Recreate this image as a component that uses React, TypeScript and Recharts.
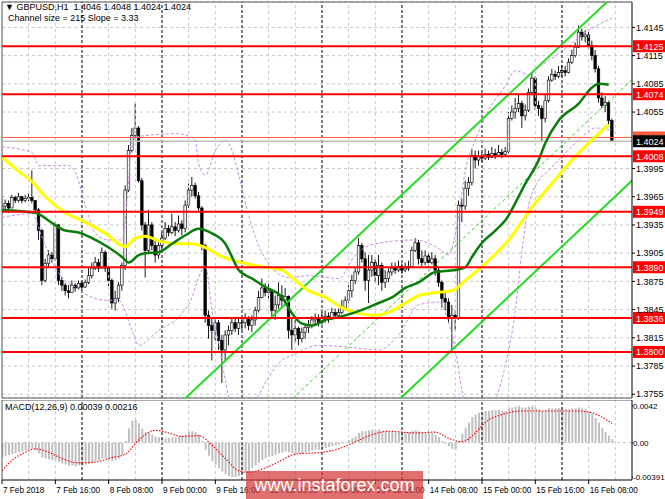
import React from 'react';
import { ComposedChart, Bar, Line, XAxis, YAxis, ReferenceLine, CartesianGrid } from 'recharts';

const FONT = '"Liberation Sans", Arial, sans-serif';

// GBPUSD H1, 7 Feb 2018 00:00 -> 16 Feb 2018 15:00 (bar index = hour slot)
const firstOpen = 1.395;
const closes = [
  1.3955, 1.3958, 1.3953, 1.3964, 1.3961, 1.3965, 1.3961, 1.3963, 1.3964, 1.3961,
  1.3951, 1.3929, 1.3876, 1.3894, 1.3903, 1.3899, 1.3935, 1.3876, 1.3871, 1.3865,
  1.3863, 1.3871, 1.3868, 1.3873, 1.3869, 1.3874, 1.3881, 1.3889, 1.3895, 1.3889,
  1.3906, 1.3889, 1.3876, 1.3852, 1.3857, 1.3871, 1.3892, 1.3972, 1.4014, 1.403,
  1.4038, 1.3982, 1.3935, 1.3908, 1.3935, 1.3913, 1.3903, 1.3913, 1.3921, 1.3931,
  1.3927, 1.3933, 1.3929, 1.3936, 1.3931, 1.3956, 1.3972, 1.3977, 1.3966, 1.3953,
  1.3913, 1.3839, 1.3828, 1.3823, 1.3831, 1.3812, 1.3802, 1.3818, 1.3823, 1.3831,
  1.3825, 1.3831, 1.3831, 1.3836, 1.3828, 1.3834, 1.3844, 1.3858, 1.3868, 1.3863,
  1.3865, 1.3844, 1.385, 1.386, 1.3855, 1.3859, 1.3823, 1.3818, 1.3825, 1.3814,
  1.3821, 1.3826, 1.3828, 1.3834, 1.3836, 1.3831, 1.3836, 1.3838, 1.3836, 1.3842,
  1.3839, 1.3842, 1.3847, 1.3855, 1.3865, 1.3876, 1.3885, 1.3913, 1.3899, 1.3876,
  1.3887, 1.3895, 1.3881, 1.3892, 1.3874, 1.3878, 1.3885, 1.3889, 1.3887, 1.3891,
  1.3887, 1.3889, 1.3891, 1.3908, 1.3916, 1.3899, 1.3895, 1.3902, 1.3895, 1.3899,
  1.3887, 1.3874, 1.3857, 1.3853, 1.3836, 1.3839, 1.3836, 1.3956, 1.3955, 1.3974,
  1.398, 1.4009, 1.4004, 1.4008, 1.4006, 1.401, 1.4007, 1.4011, 1.4009, 1.4012,
  1.401, 1.4013, 1.4048, 1.4055, 1.4059, 1.4064, 1.4051, 1.4057, 1.4076, 1.4091,
  1.4062, 1.4059, 1.4048, 1.4067, 1.4089, 1.4095, 1.4093, 1.4097, 1.4099, 1.4097,
  1.4108, 1.4115, 1.4124, 1.414, 1.4135, 1.4137, 1.4126, 1.4115, 1.4101, 1.407,
  1.4062, 1.4065, 1.4046, 1.4024,
];
const highs = [
  1.3963, 1.3962, 1.3961, 1.3967, 1.3966, 1.3969, 1.3966, 1.3967, 1.3969, 1.3993,
  1.3961, 1.3953, 1.3931, 1.3899, 1.3908, 1.3906, 1.3938, 1.3936, 1.388, 1.3873,
  1.3871, 1.3876, 1.3873, 1.3876, 1.3875, 1.3877, 1.3889, 1.3895, 1.3901, 1.3899,
  1.3911, 1.3908, 1.3891, 1.3878, 1.3865, 1.3874, 1.3895, 1.3977, 1.402, 1.4038,
  1.4064, 1.404, 1.3985, 1.3938, 1.3951, 1.3938, 1.3921, 1.3919, 1.3927, 1.3938,
  1.3935, 1.3947, 1.3938, 1.3945, 1.394, 1.3961, 1.3979, 1.3986, 1.398, 1.397,
  1.3955, 1.3915, 1.3844, 1.3836, 1.3836, 1.3834, 1.3818, 1.3823, 1.3828, 1.3836,
  1.3836, 1.3837, 1.3837, 1.3841, 1.3838, 1.3839, 1.3848, 1.3865, 1.3878, 1.3873,
  1.3872, 1.3865, 1.386, 1.3874, 1.3871, 1.3868, 1.386, 1.3836, 1.3834, 1.3827,
  1.3826, 1.3829, 1.3834, 1.3838, 1.3841, 1.384, 1.3842, 1.3844, 1.3842, 1.3847,
  1.3846, 1.3846, 1.3855, 1.3859, 1.3871, 1.3882, 1.3889, 1.3921, 1.3916, 1.3906,
  1.3903, 1.3903, 1.3899, 1.3903, 1.3895, 1.3887, 1.3889, 1.3895, 1.3895, 1.3897,
  1.3894, 1.3895, 1.3897, 1.3912, 1.3921, 1.3919, 1.3908, 1.3908, 1.3906, 1.3906,
  1.3903, 1.3891, 1.3876, 1.3863, 1.3857, 1.385, 1.3844, 1.3961, 1.3963, 1.3982,
  1.3986, 1.4016, 1.4014, 1.4014, 1.4012, 1.4016, 1.4014, 1.4018, 1.4016, 1.402,
  1.4016, 1.4018, 1.4055, 1.4062, 1.407, 1.4074, 1.4067, 1.4063, 1.408, 1.4097,
  1.4093, 1.4067, 1.4062, 1.4073, 1.4093, 1.4101, 1.4099, 1.4104, 1.4105, 1.4104,
  1.4112, 1.4121, 1.4129, 1.4147, 1.4144, 1.4142, 1.414, 1.4131, 1.4121, 1.4104,
  1.4076, 1.4072, 1.4067, 1.4048,
];
const lows = [
  1.3947, 1.3951, 1.3948, 1.3953, 1.3958, 1.3959, 1.3958, 1.3959, 1.396, 1.3958,
  1.3947, 1.3919, 1.3871, 1.3874, 1.389, 1.3895, 1.3897, 1.3871, 1.3865, 1.386,
  1.3857, 1.3863, 1.3864, 1.3867, 1.3865, 1.3868, 1.3872, 1.3878, 1.3887, 1.3885,
  1.3889, 1.3885, 1.387, 1.3846, 1.3844, 1.3853, 1.3865, 1.3887, 1.397, 1.4012,
  1.4025, 1.398, 1.3929, 1.3879, 1.3906, 1.3908, 1.3895, 1.3899, 1.3908, 1.3919,
  1.3923, 1.3925, 1.3923, 1.3927, 1.3924, 1.3927, 1.3953, 1.3965, 1.3963, 1.3948,
  1.3908, 1.3831, 1.3814, 1.3791, 1.3812, 1.3802, 1.3767, 1.3791, 1.3807, 1.3818,
  1.3821, 1.3818, 1.3823, 1.3825, 1.3823, 1.3821, 1.3828, 1.3842, 1.3857, 1.3859,
  1.3857, 1.3836, 1.3834, 1.3846, 1.3848, 1.385, 1.3814, 1.3802, 1.381, 1.3807,
  1.381, 1.3814, 1.382, 1.3825, 1.3828, 1.3827, 1.3829, 1.3831, 1.3831, 1.3834,
  1.3836, 1.3836, 1.384, 1.3844, 1.3852, 1.3858, 1.3872, 1.3882, 1.3895, 1.3865,
  1.3852, 1.388, 1.3874, 1.3871, 1.3865, 1.3868, 1.3874, 1.3881, 1.3883, 1.3885,
  1.3883, 1.3885, 1.3886, 1.3889, 1.3906, 1.3893, 1.3891, 1.3892, 1.3889, 1.3893,
  1.3881, 1.3869, 1.3847, 1.3844, 1.3831, 1.3802, 1.3823, 1.3834, 1.3938, 1.3951,
  1.3966, 1.3977, 1.3995, 1.3998, 1.4002, 1.4004, 1.4004, 1.4006, 1.4005, 1.4007,
  1.4006, 1.4008, 1.4011, 1.4046, 1.4048, 1.4055, 1.4038, 1.4046, 1.4055, 1.4073,
  1.4057, 1.4051, 1.4023, 1.4044, 1.4065, 1.4087, 1.4089, 1.4091, 1.4092, 1.4093,
  1.4096, 1.4106, 1.4113, 1.4123, 1.4131, 1.4129, 1.4121, 1.411, 1.4097, 1.4065,
  1.4059, 1.4055, 1.4042, 1.4024,
];

// moving averages and bands as [bar, price]
const maGreen = [
  [0, 1.3951], [10, 1.3948], [15, 1.3937], [19, 1.3929], [23, 1.3927], [27, 1.3921], [32, 1.3911],
  [36, 1.3901], [38, 1.3895], [41, 1.3903], [43, 1.3905], [47, 1.3906], [51, 1.3915], [55, 1.3924],
  [59, 1.3931], [63, 1.3926], [67, 1.3915], [69, 1.3901], [71, 1.3887], [75, 1.3878], [79, 1.3869],
  [84, 1.3858], [87, 1.3841], [90, 1.383], [93, 1.3828], [97, 1.3834], [101, 1.3837], [105, 1.3841],
  [109, 1.3846], [113, 1.3852], [117, 1.3858], [121, 1.3868], [125, 1.3874], [130, 1.3885], [136, 1.3887],
  [139, 1.389], [141, 1.3901], [144, 1.3916], [148, 1.3929], [151, 1.394], [157, 1.3979], [161, 1.4004],
  [163, 1.4022], [167, 1.4046], [173, 1.4064], [177, 1.4081], [179, 1.4085], [182, 1.4084],
];
const maYellow = [
  [0, 1.4007], [5, 1.3992], [9, 1.3981], [13, 1.3965], [19, 1.3948], [25, 1.3938], [31, 1.3926],
  [37, 1.3912], [40, 1.3921], [43, 1.3923], [47, 1.3918], [52, 1.3915], [57, 1.3915], [61, 1.3911],
  [65, 1.3903], [73, 1.3894], [79, 1.389], [84, 1.3887], [88, 1.3876], [92, 1.3865], [97, 1.3858],
  [102, 1.3847], [107, 1.3841], [112, 1.3839], [116, 1.3842], [121, 1.3852], [125, 1.386], [130, 1.3863],
  [135, 1.3865], [139, 1.3876], [145, 1.3894], [152, 1.3919], [159, 1.3954], [165, 1.3979], [171, 1.4004],
  [176, 1.4022], [182, 1.4042],
];
const bandUpper = [
  [0, 1.4018], [9, 1.4012], [11, 1.3998], [20, 1.3998], [22, 1.3991], [25, 1.3956], [28, 1.3926],
  [32, 1.3919], [36, 1.3919], [38, 1.3982], [39, 1.4027], [43, 1.403], [53, 1.4032], [58, 1.4025],
  [59, 1.4], [61, 1.3988], [64, 1.4014], [67, 1.4025], [69, 1.4014], [71, 1.3988], [74, 1.3945],
  [77, 1.3913], [80, 1.3894], [86, 1.3879], [92, 1.3881], [101, 1.3878], [106, 1.3903], [112, 1.3915],
  [124, 1.3919], [131, 1.391], [134, 1.3903], [137, 1.3945], [139, 1.3993], [142, 1.4025], [146, 1.4057],
  [151, 1.4083], [154, 1.4099], [158, 1.4095], [162, 1.4105], [167, 1.4117], [176, 1.4142], [183, 1.4155],
];
const bandLower = [
  [0, 1.3943], [9, 1.3947], [12, 1.3922], [15, 1.3897], [18, 1.3879], [22, 1.3869], [27, 1.3858],
  [31, 1.3855], [35, 1.3855], [39, 1.3823], [41, 1.3807], [47, 1.3823], [53, 1.3837], [57, 1.3858],
  [59, 1.3879], [61, 1.3892], [63, 1.3844], [65, 1.3809], [67, 1.377], [69, 1.3738], [73, 1.3727],
  [77, 1.3754], [80, 1.3773], [83, 1.3788], [88, 1.3798], [95, 1.3807], [104, 1.3805], [113, 1.3802],
  [119, 1.3818], [125, 1.385], [131, 1.3853], [134, 1.3831], [136, 1.3802], [138, 1.3759], [140, 1.3727],
  [145, 1.3727], [148, 1.3748], [151, 1.3786], [154, 1.3844], [156, 1.3908], [158, 1.3956], [161, 1.3982],
  [164, 1.3993], [167, 1.4004], [173, 1.4025], [178, 1.4038], [183, 1.4036],
];

// regression channel (215 pips wide, slope 3.33 pips per bar)
const channelSize = 215;
const channelSlope = 3.33;
const channelUpper = [[40, 1.37008], [195, 1.4217]];
const channelMiddle = [[40, 1.35933], [195, 1.41095]];
const channelLower = [[40, 1.34858], [195, 1.4002]];

const levels = [1.4125, 1.4074, 1.4008, 1.3949, 1.389, 1.3836, 1.38];
const bidPrice = 1.4024;
const askPrice = 1.4028;
const priceTicks = [1.4145, 1.4115, 1.4085, 1.4055, 1.3995, 1.3965, 1.3935, 1.3905, 1.3875, 1.3845, 1.3815, 1.3785, 1.3755];

const macdMain = [
  -0.0016, -0.0015, -0.0014, -0.0013, -0.0012, -0.0011, -0.001, -0.0009, -0.0008, -0.0007,
  -0.0009, -0.0012, -0.0017, -0.0018, -0.0019, -0.002, -0.0019, -0.0022, -0.0024, -0.0025,
  -0.0026, -0.0026, -0.0027, -0.0026, -0.0026, -0.0025, -0.0024, -0.0023, -0.0021, -0.002,
  -0.0018, -0.0018, -0.0019, -0.0021, -0.002, -0.0018, -0.0014, 0.0002, 0.0016, 0.0025,
  0.0026, 0.0022, 0.0016, 0.0012, 0.0011, 0.0009, 0.0007, 0.0006, 0.0005, 0.0005,
  0.0005, 0.0006, 0.0006, 0.0007, 0.0007, 0.0009, 0.0012, 0.0013, 0.0012, 0.0009,
  0.0002, -0.0008, -0.0015, -0.0021, -0.0025, -0.0029, -0.0033, -0.0036, -0.0038, -0.0039,
  -0.0039, -0.0038, -0.0036, -0.0034, -0.0032, -0.0029, -0.0026, -0.0023, -0.002, -0.0018,
  -0.0016, -0.0015, -0.0014, -0.0012, -0.0011, -0.001, -0.0011, -0.0012, -0.0012, -0.0012,
  -0.0012, -0.0011, -0.001, -0.0009, -0.0008, -0.0008, -0.0007, -0.0006, -0.0005, -0.0004,
  -0.0003, -0.0002, -0.0001, 0.0001, 0.0003, 0.0005, 0.0007, 0.0011, 0.0013, 0.0013,
  0.0014, 0.0015, 0.0014, 0.0015, 0.0013, 0.0013, 0.0013, 0.0013, 0.0012, 0.0012,
  0.0012, 0.0012, 0.0012, 0.0013, 0.0014, 0.0013, 0.0012, 0.0012, 0.0011, 0.0011,
  0.0009, 0.0006, 0.0002, -0.0001, -0.0004, -0.0007, -0.0008, 0.0002, 0.001, 0.0017,
  0.0023, 0.0029, 0.0032, 0.0034, 0.0035, 0.0036, 0.0036, 0.0037, 0.0037, 0.0037,
  0.0036, 0.0036, 0.0039, 0.004, 0.0041, 0.0042, 0.004, 0.004, 0.0041, 0.0042,
  0.004, 0.0038, 0.0036, 0.0037, 0.0039, 0.0039, 0.0039, 0.0039, 0.0039, 0.0038,
  0.0038, 0.0039, 0.0039, 0.004, 0.0039, 0.0038, 0.0036, 0.0033, 0.0028, 0.0023,
  0.0017, 0.0012, 0.0008, 0.00039,
];
const macdSignal = [
  [0, -0.0032], [3, -0.002], [7, -0.0011], [10, -0.0007], [14, -0.0011], [18, -0.0018], [23, -0.0023],
  [28, -0.0022], [33, -0.0017], [37, -0.0013], [41, 0.0003], [46, 0.0014], [50, 0.0011], [54, 0.0007],
  [59, 0.0008], [63, -0.0003], [67, -0.0018], [71, -0.0032], [74, -0.0034], [78, -0.003], [83, -0.0022],
  [88, -0.0013], [96, -0.0011], [101, -0.0007], [106, 0.0001], [111, 0.0009], [116, 0.0013], [124, 0.0011],
  [130, 0.0012], [134, 0.0005], [138, 0.0001], [142, 0.0011], [145, 0.0023], [150, 0.0032], [156, 0.0036],
  [165, 0.0036], [172, 0.0036], [177, 0.0034], [180, 0.0029], [183, 0.00216],
];
const macdTicks = [-0.00391, 0, 0.0042];
const macdTickLabels = ['-0.00391', '0.00', '0.0042'];

const timeTicks = [0, 16, 32, 48, 64, 80, 96, 112, 128, 144, 160, 176];
const timeLabels = [
  '7 Feb 2018', '7 Feb 16:00', '8 Feb 08:00', '9 Feb 00:00', '9 Feb 16:00', '12 Feb 08:00',
  '13 Feb 00:00', '13 Feb 16:00', '14 Feb 08:00', '15 Feb 00:00', '15 Feb 16:00', '16 Feb 08:00',
];
const daySeparators = [24, 48, 72, 96, 120, 144, 168];
const gridBars = [8, 16, 32, 40, 56, 64, 80, 88, 104, 112, 128, 136, 152, 160, 176, 184];

const PRICE_MIN = 1.3751;
const PRICE_MAX = 1.4172;
const MACD_MIN = -0.00425;
const MACD_MAX = 0.00485;
const BAR_MAX = 189;

const rows: any[] = closes.map((close, i) => ({
  i,
  open: i === 0 ? firstOpen : closes[i - 1],
  high: highs[i],
  low: lows[i],
  close,
  macd: macdMain[i],
}));
const attach = (pairs: number[][], key: string) => pairs.forEach(([i, v]) => { rows[i][key] = v; });
attach(maGreen, 'maGreen');
attach(maYellow, 'maYellow');
attach(bandUpper, 'bandUpper');
attach(bandLower, 'bandLower');
attach(macdSignal, 'signal');

const last = rows[rows.length - 1];

const Candle = (props: any) => {
  const { x, y, width, height, payload } = props;
  if (!payload) return null;
  const { open, close, high, low } = payload;
  const cx = x + width / 2;
  const top = Math.min(y, y + height);
  const h = Math.abs(height);
  const span = high - low || 1e-9;
  const py = (v: number) => top + ((high - v) / span) * h;
  const yo = py(open);
  const yc = py(close);
  const bull = close >= open;
  const bodyTop = Math.min(yo, yc);
  const bodyH = Math.max(Math.abs(yo - yc), 0.8);
  return (
    <g>
      <line x1={cx} x2={cx} y1={top} y2={top + h} stroke="#000" strokeWidth={0.9} />
      <rect x={cx - 1.3} y={bodyTop} width={2.6} height={bodyH} fill={bull ? '#f2f2f2' : '#000'} stroke="#000" strokeWidth={0.6} />
    </g>
  );
};

const LevelTag = ({ viewBox, text, bg }: any) => {
  if (!viewBox) return null;
  const x = viewBox.x + viewBox.width + 1;
  const y = viewBox.y;
  return (
    <g>
      <rect x={x} y={y - 6} width={33} height={12} fill={bg} />
      <text x={x + 3} y={y + 3.5} fill="#fff" fontSize={9} fontFamily={FONT}>{text}</text>
    </g>
  );
};

const TimeTick = ({ x, y, payload }: any) => (
  <text x={x + 1} y={y + 7} fontSize={8.2} fontFamily={FONT} fill="#000">
    {timeLabels[timeTicks.indexOf(payload.value)]}
  </text>
);

const MacdTick = ({ x, y, payload }: any) => (
  <text x={x} y={y + 3} fontSize={8} fontFamily={FONT} fill="#000">
    {macdTickLabels[macdTicks.indexOf(payload.value)]}
  </text>
);

const gridLines = (key: string) => [
  ...gridBars.map((b) => (
    <ReferenceLine key={`${key}-g${b}`} x={b} stroke="#c8c8c8" strokeDasharray="3 3" />
  )),
  ...daySeparators.map((b) => (
    <ReferenceLine key={`${key}-d${b}`} x={b} stroke="#000" strokeDasharray="3 2" />
  )),
];

const seg = (pts: number[][]) => pts.map(([x, y]) => ({ x, y }));

export default function App() {
  const header = `\u25BC GBPUSD,H1  ${last.open.toFixed(4)} ${last.high.toFixed(4)} ${last.low.toFixed(4)} ${last.close.toFixed(4)}`;
  return (
    <div style={{ position: 'absolute', left: 0, top: 0, width: 665, height: 499, background: '#fff', overflow: 'hidden', fontFamily: FONT }}>
      <div style={{ position: 'absolute', left: 0, top: 0 }}>
        <ComposedChart width={665} height={400} data={rows} margin={{ top: 2, right: 0, bottom: 2, left: 2 }}>
          <CartesianGrid vertical={false} stroke="#c8c8c8" strokeDasharray="3 3" />
          <XAxis dataKey="i" type="number" domain={[0, BAR_MAX]} hide allowDataOverflow />
          <YAxis
            orientation="right"
            type="number"
            domain={[PRICE_MIN, PRICE_MAX]}
            ticks={priceTicks}
            allowDataOverflow
            width={33}
            interval={0}
            stroke="#000"
            tickSize={3}
            tickMargin={1}
            tick={{ fontSize: 9, fill: '#000', fontFamily: FONT }}
            tickFormatter={(v: number) => v.toFixed(4)}
          />
          {gridLines('m')}
          <ReferenceLine x={0} stroke="#555" />
          <ReferenceLine y={PRICE_MAX} stroke="#555" />
          <ReferenceLine y={PRICE_MIN} stroke="#555" />
          <ReferenceLine y={askPrice} stroke="#ff5a3c" strokeWidth={1} label={<LevelTag text={askPrice.toFixed(4)} bg="#ff5a3c" />} />
          <ReferenceLine y={bidPrice} stroke="#c0c0c0" strokeWidth={1.5} label={<LevelTag text={bidPrice.toFixed(4)} bg="#000" />} />

          <Line dataKey="bandUpper" stroke="#c88fe6" strokeWidth={1} strokeDasharray="3 2" dot={false} connectNulls type="monotone" isAnimationActive={false} />
          <Line dataKey="bandLower" stroke="#c88fe6" strokeWidth={1} strokeDasharray="3 2" dot={false} connectNulls type="monotone" isAnimationActive={false} />

          <ReferenceLine segment={seg(channelUpper)} stroke="#22dd22" strokeWidth={2} ifOverflow="hidden" />
          <ReferenceLine segment={seg(channelMiddle)} stroke="#22dd22" strokeWidth={1} strokeDasharray="3 3" ifOverflow="hidden" />
          <ReferenceLine segment={seg(channelLower)} stroke="#22dd22" strokeWidth={2} ifOverflow="hidden" />

          <Line dataKey="maYellow" stroke="#ffff00" strokeWidth={3} dot={false} connectNulls type="monotone" isAnimationActive={false} />
          <Line dataKey="maGreen" stroke="#0b7d0b" strokeWidth={2.5} dot={false} connectNulls type="monotone" isAnimationActive={false} />

          <Bar dataKey={(d: any) => [d.low, d.high]} barSize={3} shape={<Candle />} isAnimationActive={false} />

          {levels.map((lv) => (
            <ReferenceLine key={lv} y={lv} stroke="#ff0000" strokeWidth={2} label={<LevelTag text={lv.toFixed(4)} bg="#ff0000" />} />
          ))}
        </ComposedChart>
      </div>

      <div style={{ position: 'absolute', left: 0, top: 400 }}>
        <ComposedChart width={665} height={99} data={rows} margin={{ top: 0, right: 0, bottom: 0, left: 2 }}>
          <XAxis
            dataKey="i"
            type="number"
            domain={[0, BAR_MAX]}
            ticks={timeTicks}
            interval={0}
            allowDataOverflow
            height={19}
            stroke="#000"
            tickSize={4}
            tickMargin={2}
            tick={<TimeTick />}
          />
          <YAxis
            orientation="right"
            type="number"
            domain={[MACD_MIN, MACD_MAX]}
            ticks={macdTicks}
            interval={0}
            allowDataOverflow
            width={33}
            stroke="#000"
            tickSize={1}
            tickMargin={0}
            tick={<MacdTick />}
          />
          {gridLines('s')}
          <ReferenceLine x={0} stroke="#555" />
          <ReferenceLine y={MACD_MAX} stroke="#555" />
          <ReferenceLine y={0} stroke="#c8c8c8" strokeDasharray="3 3" />
          <Bar dataKey="macd" fill="#c0c0c0" barSize={2} isAnimationActive={false} />
          <Line dataKey="signal" stroke="#ff0000" strokeWidth={1.1} strokeDasharray="1.5 1.5" dot={false} connectNulls type="monotone" isAnimationActive={false} />
        </ComposedChart>
      </div>

      <div style={{ position: 'absolute', left: 5, top: 2, fontSize: 9, lineHeight: '11px', whiteSpace: 'pre', color: '#000' }}>{header}</div>
      <div style={{ position: 'absolute', left: 8, top: 13, fontSize: 9, lineHeight: '11px', whiteSpace: 'pre', color: '#000' }}>
        {`Channel size = ${channelSize} Slope = ${channelSlope.toFixed(2)}`}
      </div>
      <div style={{ position: 'absolute', left: 5, top: 402, fontSize: 9, lineHeight: '11px', whiteSpace: 'pre', color: '#000' }}>
        {`MACD(12,26,9) ${macdMain[macdMain.length - 1].toFixed(5)} ${macdSignal[macdSignal.length - 1][1].toFixed(5)}`}
      </div>
      <div
        style={{
          position: 'absolute', left: 246, top: 471, width: 177, height: 28,
          background: 'rgba(212, 56, 56, 0.72)', color: '#fff', fontSize: 18, lineHeight: '28px', textAlign: 'center',
        }}
      >
        www.instaforex.com
      </div>
    </div>
  );
}
